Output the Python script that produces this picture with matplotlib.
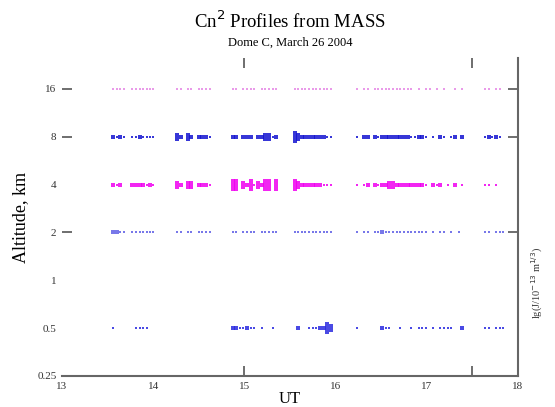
import numpy as np
import matplotlib.pyplot as plt
from matplotlib.ticker import FixedLocator, NullFormatter

plt.rcParams['font.family'] = ['Liberation Serif', 'DejaVu Serif']

# measurement times (UT, hours), shared by all layers
ut = [13.56, 13.60, 13.64, 13.68,
      13.77, 13.81, 13.85, 13.89, 13.93, 13.97, 14.00,
      14.26, 14.30, 14.34, 14.38, 14.42, 14.46, 14.50, 14.54, 14.58, 14.62,
      14.87, 14.91, 14.95, 14.99, 15.03, 15.07, 15.11, 15.15, 15.19, 15.23, 15.27, 15.31, 15.35,
      15.55, 15.59, 15.63, 15.67, 15.71, 15.75, 15.79, 15.83, 15.87, 15.91, 15.95,
      16.23, 16.27, 16.31, 16.35, 16.39, 16.43, 16.47, 16.51, 16.55, 16.59,
      16.63, 16.67, 16.71, 16.75, 16.79, 16.83, 16.87, 16.91, 16.95, 16.99,
      17.03, 17.07, 17.11, 17.15, 17.19, 17.23, 17.27, 17.31, 17.35, 17.39,
      17.64, 17.68, 17.72, 17.76, 17.80, 17.84]

altitudes = [0.5, 2, 4, 8, 16]

# layer strength J (relative units), 0 = no value
j05 = ([1, 0, 0, 0] + [0, 1, 1, 1, 1, 0, 0] + [0] * 10
       + [2, 2, 1, 1, 2, 1, 1, 0, 1, 0, 0, 1, 0]
       + [0, 2, 0, 0, 1, 1, 1, 2, 2, 4, 3]
       + [1, 0, 0, 0, 0, 0, 0, 2, 1, 1, 0, 0, 1, 0, 0, 1, 0, 1, 1, 1, 0, 1, 0, 1, 1, 1, 1, 0, 0, 2]
       + [1, 1, 0, 1, 1, 1])
j2 = ([2, 2, 1, 1] + [1, 1, 1, 1, 1, 1, 1] + [1, 1, 0, 1, 1, 0, 1, 1, 1, 1]
      + [1, 1, 0, 1, 1, 1, 1, 0, 1, 1, 1, 1, 1]
      + [1, 1, 1, 1, 1, 1, 1, 1, 1, 1, 1]
      + [1, 0, 1, 1, 0, 1, 1, 2, 1, 1, 1, 1, 1, 1, 1, 1, 1, 1, 1, 1, 0, 1, 0, 1, 1, 0, 1, 0, 1, 0]
      + [1, 1, 0, 1, 1, 1])
j4 = ([2, 1, 2, 0] + [2, 2, 2, 2, 1, 2, 1] + [3, 2, 0, 3, 3, 0, 2, 2, 2, 1]
      + [4, 4, 0, 3, 2, 4, 1, 3, 2, 4, 4, 0, 4]
      + [4, 3, 2, 2, 2, 2, 2, 2, 1, 1, 1]
      + [1, 0, 1, 2, 0, 2, 1, 2, 2, 3, 3, 2, 2, 2, 2, 2, 2, 2, 2, 1, 0, 2, 1, 2, 0, 1, 0, 2, 0, 1]
      + [1, 1, 0, 1, 0, 0])
j8 = ([2, 1, 2, 1] + [1, 1, 2, 1, 1, 1, 1] + [3, 2, 0, 3, 2, 0, 2, 2, 2, 1]
      + [2, 2, 0, 2, 2, 2, 0, 2, 2, 3, 3, 1, 2]
      + [4, 3, 2, 2, 2, 2, 2, 2, 2, 1, 1]
      + [1, 0, 2, 2, 0, 2, 1, 2, 2, 2, 2, 2, 2, 2, 2, 1, 1, 2, 2, 1, 0, 1, 0, 2, 1, 0, 1, 2, 0, 2]
      + [1, 2, 1, 2, 1, 0])
j16 = ([1, 1, 1, 1] + [1, 1, 1, 1, 1, 1, 1] + [1, 1, 0, 1, 1, 0, 1, 1, 1, 1]
       + [1, 1, 0, 1, 1, 1, 1, 0, 1, 1, 1, 1, 1]
       + [1, 1, 1, 1, 1, 1, 1, 1, 1, 1, 1]
       + [1, 0, 1, 1, 0, 1, 1, 1, 1, 1, 1, 1, 1, 1, 1, 1, 0, 1, 0, 1, 1, 0, 1, 0, 1, 0, 0, 1, 0, 1]
       + [1, 1, 0, 1, 1, 0])

layers = [j05, j2, j4, j8, j16]
colors = ['#2a2ae0', '#6060e6', '#f000f0', '#1414d0', '#e68ae6']

# marker shape per J level: (half width relative to height, marker size in points)
level_shape = {1: (0.65, 2.0), 2: (0.32, 3.4), 3: (0.22, 5.5), 4: (0.18, 8.0)}

fig = plt.figure(figsize=(5.55, 4.07), dpi=100)
ax = fig.add_axes([0.1117, 0.0762, 0.8216, 0.7813])

t = np.array(ut)
for alt, jj, c in zip(altitudes, layers, colors):
    jj = np.array(jj)
    for lev, (hw, ms) in level_shape.items():
        m = jj == lev
        if not m.any():
            continue
        rect = [(-hw, -0.5), (hw, -0.5), (hw, 0.5), (-hw, 0.5), (-hw, -0.5)]
        ax.scatter(t[m], np.full(m.sum(), alt), s=ms ** 2, marker=rect,
                   color=c, linewidths=0, alpha=0.85)

ax.set_yscale('log', base=2)
ax.set_xlim(13, 18)
ax.set_ylim(0.25, 25)

ax.set_xticks([13, 14, 15, 16, 17, 18])
ax.set_xticklabels(['13', '14', '15', '16', '17', '18'])
ax.set_yticks([0.25, 0.5, 1, 2, 4, 8, 16])
ax.set_yticklabels(['0.25', '0.5', '1', '2', '4', '8', '16'])
ax.tick_params(which='major', length=0, labelsize=8, pad=4, colors='#333333')

ax.xaxis.remove_overlapping_locs = False
ax.yaxis.remove_overlapping_locs = False
ax.xaxis.set_minor_locator(FixedLocator([15, 17.5]))
ax.yaxis.set_minor_locator(FixedLocator([2, 8, 16]))
ax.xaxis.set_minor_formatter(NullFormatter())
ax.yaxis.set_minor_formatter(NullFormatter())
ax.tick_params(which='minor', direction='in', length=7, width=1.2, color='#555555',
               top=True, bottom=True, left=True, right=True)

for side in ['left', 'top']:
    ax.spines[side].set_visible(False)
for side in ['bottom', 'right']:
    ax.spines[side].set_color('#666666')
    ax.spines[side].set_linewidth(1.5)

ax.set_xlabel('UT', fontsize=12, labelpad=0)
ax.set_ylabel('Altitude, km', fontsize=13, labelpad=6)

fig.text(0.5225, 0.948, 'Cn$^2$ Profiles from MASS', ha='center', va='center', fontsize=13.5)
fig.text(0.5225, 0.895, 'Dome C, March 26 2004', ha='center', va='center', fontsize=9)
fig.text(0.968, 0.305, 'lg(J/10$^{-13}$ m$^{1/3}$)', rotation=90, ha='center', va='center',
         fontsize=7.5, color='#333333')

fig.savefig('out.png', dpi=100)
